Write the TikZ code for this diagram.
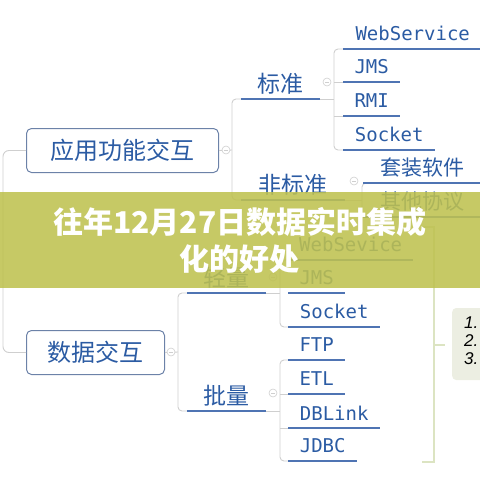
\documentclass[tikz,border=0pt]{standalone}
\usepackage{fontspec}
\usepackage{xcolor}
\usetikzlibrary{positioning}
\newfontfamily\cjk{Noto Sans CJK SC}
\newfontfamily\monofont{DejaVu Sans Mono}
\newfontfamily\sumfont{Liberation Sans}
\definecolor{Map_Blue}{HTML}{2B5BA3}
\definecolor{Map_Line}{HTML}{4F74B3}
\definecolor{Map_Box}{HTML}{6C82A8}
\definecolor{Map_Grey}{HTML}{CFCFCF}
\definecolor{Map_Green}{HTML}{DCE4C2}
\definecolor{Map_Sum}{HTML}{ECEEE2}
\definecolor{Map_Banner}{RGB}{190,193,80}
\tikzset{
  link/.style={draw=Map_Grey, line width=0.9pt},
  ulink/.style={draw=Map_Line, line width=1.2pt},
  topic/.style={inner sep=0pt, minimum height=30pt, anchor=south west, text=Map_Blue, font=\cjk\fontsize{23}{23}\selectfont},
  leaf/.style={topic, font=\monofont\fontsize{19}{19}\selectfont},
  cnleaf/.style={topic, font=\cjk\fontsize{21}{21}\selectfont},
  mainbox/.style={draw=Map_Box, line width=1pt, rounded corners=5pt, minimum height=44pt, inner sep=0pt, anchor=north west, text=Map_Blue, font=\cjk\fontsize{24}{24}\selectfont},
  fold/.style={circle, draw=Map_Grey, fill=white, line width=0.6pt, minimum size=8pt, inner sep=0pt,
    path picture={\draw[Map_Grey, line width=0.6pt] ([xshift=-2pt]path picture bounding box.center) -- ([xshift=2pt]path picture bounding box.center);}},
  sumline/.style={draw=Map_Green, line width=2pt},
}
\begin{document}
\begin{tikzpicture}[x=1pt, y=-1pt]
    \useasboundingbox (0,0) rectangle (480,480);

    % main boxes
    \node[mainbox, minimum width=192pt] (app) at (26,128) {应用功能交互};
    \node[mainbox, minimum width=138pt] (data) at (26,330) {数据交互};

    % upper branch
    \node[topic, minimum width=79pt] (std) at (241,99) {标准};
    \node[leaf, minimum width=139pt] (ws1) at (343,49) {WebService};
    \node[leaf, minimum width=57pt] (jms1) at (343,82) {JMS};
    \node[leaf, minimum width=57pt] (rmi) at (343,116) {RMI};
    \node[leaf, minimum width=92pt] (sock1) at (343,150) {Socket};
    \node[topic, minimum width=104pt] (nstd) at (241,200) {非标准};
    \node[cnleaf, minimum width=119pt] (pkg) at (363,183) {套装软件};
    \node[cnleaf, minimum width=119pt] (oth) at (363,217) {其他协议};

    % lower branch
    \node[topic, minimum width=79pt] (lite) at (187,293) {轻量};
    \node[leaf, minimum width=125pt] (ws2) at (288,260) {WebSevice};
    \node[leaf, minimum width=57pt] (jms2) at (288,293) {JMS};
    \node[leaf, minimum width=92pt] (sock2) at (288,327) {Socket};
    \node[topic, minimum width=79pt] (batch) at (187,411) {批量};
    \node[leaf, minimum width=57pt] (ftp) at (288,360) {FTP};
    \node[leaf, minimum width=57pt] (etl) at (288,394) {ETL};
    \node[leaf, minimum width=92pt] (dbl) at (288,428) {DBLink};
    \node[leaf, minimum width=69pt] (jdbc) at (288,461) {JDBC};

    % fork points
    \coordinate (fk0) at (3,250);
    \coordinate (fk1) at (232,150);
    \coordinate (fk2) at (334,99);
    \coordinate (fk3) at (362,200);
    \coordinate (fk4) at (178,352);
    \coordinate (fk5) at (280,293);
    \coordinate (fk6) at (280,411);

    % connectors
    \draw[link, rounded corners=6pt] (app.west) -| (fk0) |- (data.west);
    \draw[link] (app.east) -- (fk1);
    \draw[link, rounded corners=4pt] (std.south west) -| (fk1) |- (nstd.south west);
    \draw[link] (std.south east) -- (fk2);
    \draw[link, rounded corners=4pt] (ws1.south west) -| (fk2) |- (sock1.south west);
    \draw[link] (jms1.south west) -- (jms1.south west -| fk2);
    \draw[link] (rmi.south west) -- (rmi.south west -| fk2);
    \draw[link] (nstd.south east) -- (fk3);
    \draw[link, rounded corners=4pt] (pkg.south west) -| (fk3) |- (oth.south west);
    \draw[link] (data.east) -- (fk4);
    \draw[link, rounded corners=4pt] (lite.south west) -| (fk4) |- (batch.south west);
    \draw[link] (lite.south east) -- (fk5);
    \draw[link, rounded corners=4pt] (ws2.south west) -| (fk5) |- (sock2.south west);
    \draw[link] (batch.south east) -- (fk6);
    \draw[link, rounded corners=4pt] (ftp.south west) -| (fk6) |- (jdbc.south west);
    \draw[link] (etl.south west) -- (etl.south west -| fk6);
    \draw[link] (dbl.south west) -- (dbl.south west -| fk6);

    % underlines
    \foreach \n in {std,ws1,jms1,rmi,sock1,nstd,pkg,oth,lite,ws2,jms2,sock2,batch,ftp,etl,dbl,jdbc}
        \draw[ulink] (\n.south west) -- (\n.south east);

    % fold marks
    \node[fold] (fd1) at (226,150) {};
    \node[fold] (fd2) at (327,82) {};
    \node[fold] (fd3) at (354,181) {};
    \node[fold] (fd4) at (171,352) {};
    \node[fold] (fd5) at (273,277) {};
    \node[fold] (fd6) at (273,393) {};

    % summary
    \coordinate (sumtop) at (422,227);
    \coordinate (sumbot) at (422,462);
    \coordinate (summid) at (434,345);
    \coordinate (sumtip) at (445,345);
    \draw[sumline] (sumtop) -- (sumtop -| summid) -- (sumbot -| summid) -- (sumbot);
    \draw[sumline] (summid) -- (sumtip);
    \node[fill=Map_Sum, rounded corners=4pt, minimum width=36pt, minimum height=72pt, anchor=west] (sumbox) at (452,344) {};
    \node[anchor=west, align=left, inner sep=0pt, font=\sumfont\itshape\fontsize{17}{18}\selectfont] (sumtxt) at (464,341) {1.\\2.\\3.};

    % banner
    \fill[Map_Banner, opacity=0.88] (0,192) rectangle (480,288);
    \node[align=center, text=white, font=\cjk\bfseries\fontsize{30}{37}\selectfont] (title) at (240,240) {往年12月27日数据实时集成\\化的好处};
\end{tikzpicture}
\end{document}
